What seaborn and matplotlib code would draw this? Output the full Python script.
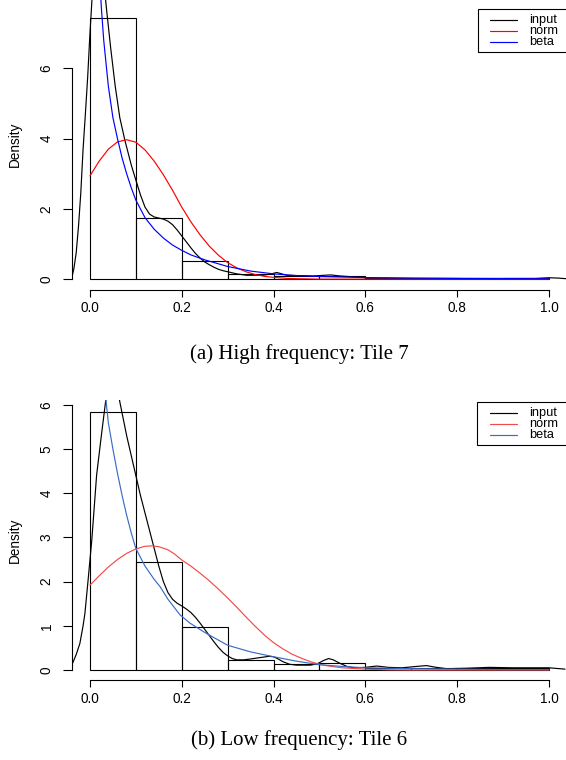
import matplotlib
matplotlib.use("Agg")
import matplotlib.pyplot as plt
from matplotlib.patches import Rectangle
from matplotlib.lines import Line2D
import seaborn as sns

W, H = 566, 760

bin_edges = [0.0, 0.1, 0.2, 0.3, 0.4, 0.5, 0.6, 0.7, 0.8, 0.9, 1.0]
x_ticks = [0.0, 0.2, 0.4, 0.6, 0.8, 1.0]
legend_labels = ["input", "norm", "beta"]

# ---- (a) High frequency: Tile 7 ----
hist_a = [7.43, 1.74, 0.53, 0.16, 0.10, 0.08, 0.02, 0.02, 0.01, 0.03]

input_a_x = [-0.04, -0.035, -0.03, -0.025, -0.02, -0.015, -0.01, -0.005, 0.0, 0.005,
             0.01, 0.018, 0.025, 0.03, 0.036, 0.045, 0.055, 0.065, 0.076, 0.09,
             0.10, 0.11, 0.12, 0.13, 0.14, 0.15, 0.16, 0.17, 0.18, 0.19,
             0.20, 0.21, 0.22, 0.23, 0.24, 0.25, 0.26, 0.27, 0.28, 0.29,
             0.30, 0.32, 0.341, 0.377, 0.395, 0.407, 0.418, 0.429, 0.46, 0.486,
             0.51, 0.525, 0.545, 0.58, 0.62, 0.70, 0.80, 0.90, 0.97, 1.0,
             1.02, 1.04]
input_a_y = [0.02, 0.3, 0.75, 1.5, 2.45, 3.7, 4.7, 5.75, 7.0, 8.1,
             8.9, 9.4, 9.1, 8.5, 7.7, 6.6, 5.5, 4.6, 3.96, 3.25,
             2.82, 2.40, 2.05, 1.85, 1.77, 1.74, 1.71, 1.65, 1.55, 1.40,
             1.23, 1.06, 0.89, 0.73, 0.60, 0.49, 0.41, 0.34, 0.28, 0.24,
             0.21, 0.15, 0.11, 0.11, 0.15, 0.19, 0.15, 0.11, 0.10, 0.09,
             0.11, 0.12, 0.09, 0.06, 0.03, 0.02, 0.02, 0.02, 0.02, 0.04,
             0.03, 0.01]

norm_a_x = [0.0, 0.02, 0.04, 0.06, 0.08, 0.10, 0.12, 0.14, 0.16, 0.18,
            0.20, 0.22, 0.24, 0.26, 0.28, 0.30, 0.32, 0.34, 0.36, 0.38,
            0.40, 0.43, 0.46, 0.50, 0.60, 0.80, 1.0]
norm_a_y = [2.94, 3.36, 3.70, 3.91, 3.97, 3.90, 3.68, 3.36, 2.97, 2.53,
            2.05, 1.63, 1.26, 0.94, 0.68, 0.47, 0.32, 0.21, 0.13, 0.08,
            0.05, 0.02, 0.01, 0.0, 0.0, 0.0, 0.0]

beta_a_x = [0.005, 0.01, 0.015, 0.02, 0.025, 0.03, 0.04, 0.05, 0.06, 0.07,
            0.08, 0.09, 0.10, 0.12, 0.14, 0.16, 0.18, 0.20, 0.22, 0.25,
            0.30, 0.35, 0.40, 0.45, 0.50, 0.60, 0.70, 0.80, 0.90, 1.0]
beta_a_y = [20.0, 13.5, 10.5, 8.8, 7.7, 6.8, 5.5, 4.6, 4.0, 3.45,
            3.0, 2.6, 2.25, 1.75, 1.42, 1.17, 0.97, 0.82, 0.69, 0.55,
            0.36, 0.23, 0.15, 0.10, 0.075, 0.045, 0.03, 0.02, 0.015, 0.01]

# ---- (b) Low frequency: Tile 6 ----
hist_b = [5.83, 2.44, 0.97, 0.23, 0.13, 0.17, 0.04, 0.05, 0.04, 0.05]

input_b_x = [-0.04, -0.03, -0.022, -0.015, -0.011, -0.004, 0.004, 0.0145, 0.025, 0.034,
             0.042, 0.05, 0.058, 0.065, 0.08, 0.098, 0.11, 0.12, 0.13, 0.14,
             0.15, 0.16, 0.17, 0.18, 0.19, 0.20, 0.21, 0.22, 0.23, 0.24,
             0.25, 0.26, 0.27, 0.28, 0.29, 0.30, 0.31, 0.32, 0.335, 0.35,
             0.37, 0.39, 0.40, 0.41, 0.42, 0.435, 0.45, 0.48, 0.495, 0.51,
             0.52, 0.53, 0.545, 0.56, 0.575, 0.60, 0.625, 0.65, 0.68, 0.71,
             0.733, 0.755, 0.777, 0.82, 0.87, 0.92, 0.97, 1.0, 1.035]
input_b_y = [0.10, 0.35, 0.60, 1.00, 1.28, 2.04, 2.94, 4.41, 5.32, 6.07,
             6.5, 6.7, 6.5, 6.07, 5.3, 4.49, 3.95, 3.55, 3.15, 2.75,
             2.35, 2.00, 1.75, 1.60, 1.51, 1.45, 1.38, 1.30, 1.19, 1.06,
             0.92, 0.78, 0.64, 0.51, 0.40, 0.32, 0.26, 0.23, 0.23, 0.25,
             0.28, 0.31, 0.30, 0.25, 0.19, 0.13, 0.11, 0.11, 0.14, 0.22,
             0.26, 0.23, 0.15, 0.08, 0.05, 0.06, 0.09, 0.06, 0.05, 0.08,
             0.10, 0.06, 0.03, 0.04, 0.06, 0.05, 0.05, 0.05, 0.02]

norm_b_x = [0.0, 0.02, 0.04, 0.06, 0.08, 0.10, 0.12, 0.135, 0.15, 0.17,
            0.185, 0.20, 0.22, 0.24, 0.26, 0.28, 0.30, 0.32, 0.34, 0.36,
            0.38, 0.40, 0.42, 0.44, 0.46, 0.48, 0.50, 0.52, 0.55, 0.60,
            0.65, 0.70, 1.0]
norm_b_y = [1.92, 2.13, 2.33, 2.50, 2.64, 2.74, 2.80, 2.81, 2.79, 2.72,
            2.62, 2.49, 2.35, 2.19, 2.02, 1.83, 1.63, 1.42, 1.20, 0.99,
            0.79, 0.62, 0.48, 0.36, 0.27, 0.19, 0.13, 0.09, 0.05, 0.02,
            0.005, 0.0, 0.0]

beta_b_x = [0.01, 0.02, 0.03, 0.034, 0.04, 0.05, 0.06, 0.07, 0.08, 0.09,
            0.10, 0.12, 0.14, 0.1525, 0.17, 0.196, 0.218, 0.25, 0.30, 0.35,
            0.40, 0.45, 0.50, 0.55, 0.60, 0.70, 0.80, 0.90, 1.0]
beta_b_y = [14.0, 9.5, 6.9, 6.2, 5.6, 5.0, 4.45, 3.95, 3.5, 3.1,
            2.75, 2.35, 2.05, 1.89, 1.6, 1.25, 1.06, 0.85, 0.56, 0.41,
            0.30, 0.20, 0.12, 0.08, 0.05, 0.03, 0.02, 0.01, 0.01]

sns.set_theme(style="white")
plt.rcParams["font.family"] = ["Liberation Sans", "DejaVu Sans"]

fig = plt.figure(figsize=(W / 100, H / 100), dpi=100)


def px_axes(left, top, right, bottom):
    return fig.add_axes([left / W, 1 - bottom / H, (right - left) / W, (bottom - top) / H])


def draw_panel(ax, hist, curves, colors, ylim, yticks):
    centers = [(a + b) / 2 for a, b in zip(bin_edges[:-1], bin_edges[1:])]
    sns.histplot(x=centers, weights=hist, bins=bin_edges, fill=False,
                 color="black", linewidth=0.8, ax=ax)
    for (cx, cy), col in zip(curves, colors):
        sns.lineplot(x=cx, y=cy, sort=False, estimator=None, color=col,
                     linewidth=0.85, ax=ax)

    ax.set_xlim(-0.04, 1.04)
    ax.set_ylim(*ylim)
    ax.set_xticks(x_ticks)
    ax.set_xticklabels([f"{t:.1f}" for t in x_ticks])
    ax.set_yticks(yticks)
    ax.set_yticklabels([str(t) for t in yticks])
    ax.set_xlabel("")
    ax.set_ylabel("Density", fontsize=9.8, color="black")
    ax.yaxis.set_label_coords(-0.10, 0.5)

    for side in ["top", "right"]:
        ax.spines[side].set_visible(False)
    for side in ["left", "bottom"]:
        ax.spines[side].set_color("black")
        ax.spines[side].set_linewidth(0.8)
    ax.spines["left"].set_bounds(0, yticks[-1])
    ax.spines["bottom"].set_bounds(0, 1)

    ax.tick_params(axis="x", bottom=True, direction="out", length=5.3, width=0.8,
                   pad=3, labelsize=9.8, colors="black")
    ax.tick_params(axis="y", left=True, direction="out", length=6.5, width=0.8,
                   pad=6.5, labelsize=9.8, colors="black", labelrotation=90)
    for lab in ax.get_yticklabels():
        lab.set_va("center")
    ax.set_facecolor("none")


def draw_legend(box_left, box_top, box_bottom, rows, colors):
    fig.add_artist(Rectangle((box_left / W, 1 - box_bottom / H),
                             (568 - box_left) / W, (box_bottom - box_top) / H,
                             transform=fig.transFigure, facecolor="white",
                             edgecolor="black", linewidth=0.8))
    for y, lab, col in zip(rows, legend_labels, colors):
        fig.add_artist(Line2D([490 / W, 516.7 / W], [1 - y / H, 1 - y / H],
                              transform=fig.transFigure, color=col, linewidth=0.85))
        fig.text(529.3 / W, 1 - y / H, lab, va="center", ha="left",
                 fontsize=9.2, color="black")


colors_a = ["black", "#ff0000", "#0000ff"]
colors_b = ["black", "#f44a4a", "#3a6cc6"]

ax_a = px_axes(71.6, 0, 567.3, 289.5)
draw_panel(ax_a, hist_a,
           [(input_a_x, input_a_y), (norm_a_x, norm_a_y), (beta_a_x, beta_a_y)],
           colors_a, (-0.295, 7.95), [0, 2, 4, 6])
draw_legend(477.7, 9.3, 52.3, [20, 31, 42], colors_a)

ax_b = px_axes(71.6, 400, 567.3, 680)
draw_panel(ax_b, hist_b,
           [(input_b_x, input_b_y), (norm_b_x, norm_b_y), (beta_b_x, beta_b_y)],
           colors_b, (-0.226, 6.11), [0, 1, 2, 3, 4, 5, 6])
draw_legend(476.7, 402.3, 445, [413, 424, 435], colors_b)

fig.text(299 / W, 1 - 354 / H, "(a) High frequency: Tile 7", ha="center", va="center",
         family=["Liberation Serif", "DejaVu Serif"], fontsize=15, color="black")
fig.text(299 / W, 1 - 740 / H, "(b) Low frequency: Tile 6", ha="center", va="center",
         family=["Liberation Serif", "DejaVu Serif"], fontsize=15, color="black")

fig.savefig("out.png", dpi=100, facecolor="white")
